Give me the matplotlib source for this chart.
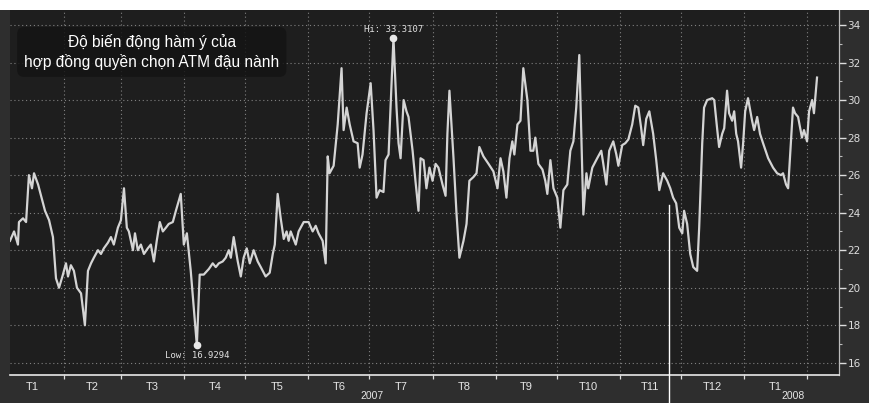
import numpy as np
import matplotlib
matplotlib.use("Agg")
import matplotlib.pyplot as plt
import matplotlib.transforms as mtransforms
from matplotlib.ticker import FixedLocator, NullFormatter, FixedFormatter, MultipleLocator

# ---- data: day offset since 2007-01-01, implied volatility ----
days = [4.4, 6.4, 8.3, 8.8, 10.8, 12.3, 13.7, 15.2, 16.2, 18.2, 20.6, 21.6, 23.6, 25.5,
        27.0, 28.5, 30.4, 31.9, 32.9, 34.3, 35.8, 37.3, 39.3, 41.2, 42.7, 44.2, 45.6, 47.6,
        49.1, 50.5, 52.5, 54.0, 55.4, 57.4, 58.9, 60.4, 61.8, 62.8, 64.8, 65.8, 67.2, 68.7,
        70.2, 72.1, 73.6, 75.1, 76.5, 78.0, 79.5, 81.0, 82.4, 84.4, 85.9, 88.3, 89.8, 91.3,
        93.2, 96.2, 97.6, 99.6, 102.1, 104.0, 105.5, 107.0, 108.9, 110.4, 111.9, 112.9, 114.3,
        116.3, 117.8, 119.2, 120.7, 122.2, 124.1, 126.1, 127.6, 130.0, 132.0, 133.5, 134.5,
        135.9, 137.4, 138.9, 140.3, 141.3,
        142.3, 144.8, 146.2, 148.7, 151.1, 153.1, 154.6, 156.0, 158.0, 159.5, 160.5, 161.4,
        163.4, 165.4, 167.3, 168.3, 169.8, 171.3, 173.2, 175.2, 176.2, 177.6, 179.6, 181.6,
        183.0, 184.5, 186.0, 187.9, 188.9, 190.4, 192.8, 194.3, 195.3, 196.3, 197.8, 199.2,
        200.2, 202.2, 203.6, 205.1, 206.1, 207.6, 209.0, 210.5, 212.0, 213.5, 214.9, 216.9,
        218.4, 219.3, 220.3, 222.3, 223.8, 225.2, 227.2, 228.7, 230.1, 232.1, 233.6, 235.0,
        237.0, 239.5, 241.9, 243.9, 245.4, 246.8, 248.3, 249.8, 251.2, 252.2, 253.7, 255.2,
        256.6, 258.6, 260.1, 261.5, 262.5, 264.0, 266.0, 267.4, 268.4, 269.9, 271.4, 273.3,
        274.8, 276.3, 278.2, 279.7, 281.2, 282.6, 284.1,
        286.1, 287.6, 288.5, 290.5, 292.9, 294.9, 295.9, 297.4, 298.8, 300.8, 302.3, 303.3,
        305.2, 306.7, 308.2, 310.1, 311.6, 313.1, 314.5, 315.5, 317.0, 318.5, 320.4, 321.9,
        323.4, 325.3, 327.3, 328.8, 330.2, 331.7, 333.2, 334.7, 335.6, 337.1, 338.6, 340.1,
        342.0, 343.0, 344.5, 345.4, 346.9, 349.4, 350.4, 351.8, 352.8, 354.3, 355.3, 356.7,
        357.7, 359.2, 360.2, 361.2, 362.1, 363.6, 364.6, 365.6, 367.0, 369.0, 370.0, 371.5,
        372.9, 374.4, 376.9, 379.3, 381.3, 383.2, 384.2, 385.7, 386.7, 387.7, 389.1, 390.1,
        391.6, 393.5, 394.5, 396.0, 397.0, 398.5, 399.4, 400.9]

vols = [22.5, 23.0, 22.3, 23.5, 23.7, 23.5, 26.0, 25.3, 26.1, 25.5, 24.5, 24.1, 23.6, 22.7,
        20.5, 20.0, 20.7, 21.3, 20.6, 21.2, 20.9, 20.0, 19.7, 18.0, 20.9, 21.3, 21.6, 22.0,
        21.8, 22.1, 22.4, 22.7, 22.3, 23.2, 23.6, 25.3, 23.2, 23.0, 22.0, 22.9, 22.0, 22.3,
        21.8, 22.1, 22.3, 21.4, 22.5, 23.5, 23.0, 23.2, 23.4, 23.5, 24.1, 25.0, 22.3, 22.9,
        20.9, 16.9294, 20.7, 20.7, 21.0, 21.3, 21.1, 21.3, 21.4, 21.6, 22.0, 21.6, 22.7,
        21.4, 20.6, 21.6, 22.1, 21.3, 22.0, 21.4, 21.1, 20.6, 20.8, 21.8, 22.3,
        25.0, 23.7, 22.6, 23.0, 22.5,
        23.0, 22.3, 23.0, 23.5, 23.5, 23.0, 23.3, 22.9, 22.5, 21.3, 27.0, 26.1,
        26.5, 28.7, 31.7, 28.4, 29.6, 28.7, 27.8, 27.7, 26.4, 27.1, 29.3, 30.9,
        28.4, 24.8, 25.2, 25.1, 26.8, 27.1, 33.3107, 29.6, 27.7, 26.9, 30.0, 29.4,
        29.1, 27.3, 25.7, 24.1, 26.9, 26.8, 25.3, 26.4, 25.7, 26.6, 26.4, 25.5,
        24.9, 28.2, 30.5, 26.9, 23.9, 21.6, 22.5, 23.4, 25.7, 25.9, 26.1, 27.5,
        27.0, 26.6, 26.2, 25.3, 26.9, 26.2, 24.8, 26.9, 27.8, 27.1, 28.7, 28.9,
        31.7, 30.0, 27.3, 27.3, 28.0, 26.6, 26.3, 25.7, 25.0, 26.8, 25.3, 24.8,
        23.2, 25.2, 25.5, 27.3, 27.8, 29.6, 32.4,
        23.9, 26.1, 25.3, 26.4, 26.9, 27.3, 26.6, 25.5, 27.3, 27.8, 27.1, 26.5,
        27.6, 27.7, 27.9, 28.7, 29.7, 29.6, 28.5, 27.6, 29.0, 29.4, 28.2, 26.8,
        25.2, 26.1, 25.7, 25.3, 24.8, 24.5, 23.2, 22.9, 24.1, 23.4, 21.8, 21.1,
        20.9, 23.2, 27.7, 29.6, 30.0, 30.1, 30.0, 28.5, 27.5, 28.2, 28.5, 30.5,
        29.3, 28.9, 29.4, 28.2, 27.8, 26.4, 27.7, 29.4, 30.1, 28.9, 28.4, 29.1,
        28.2, 27.7, 26.9, 26.4, 26.1, 26.0, 26.1, 25.5, 25.3, 27.1, 29.6, 29.3,
        29.1, 28.0, 28.4, 27.8, 29.4, 30.0, 29.3, 31.2]

month_starts = ["2007-01-01", "2007-02-01", "2007-03-01", "2007-04-01", "2007-05-01",
                "2007-06-01", "2007-07-01", "2007-08-01", "2007-09-01", "2007-10-01",
                "2007-11-01", "2007-12-01", "2008-01-01", "2008-02-01"]
month_labels = ["T1", "T2", "T3", "T4", "T5", "T6", "T7", "T8", "T9", "T10", "T11", "T12", "T1"]
year_labels = ["2007", "2008"]
year_label_days = [182.5, 389.0]
cursor_day = 328.3
title = "Độ biến động hàm ý của\nhợp đồng quyền chọn ATM đậu nành"

# ---- derived ----
days = np.array(days)
vols = np.array(vols)
origin = np.datetime64("2007-01-01")
bounds = np.array([(np.datetime64(m) - origin).astype(int) for m in month_starts], dtype=float)
mids = (bounds[:-1] + bounds[1:]) / 2

W, H = 869, 403
fig = plt.figure(figsize=(W / 100, H / 100), dpi=100, facecolor="#2e2e2e")
ax = fig.add_axes([10 / W, 1 - 375 / H, 829 / W, 365 / H])
ax.set_facecolor("#1e1e1e")

# white strip at the very top of the scan
fig.patches.append(plt.Rectangle((0, 1 - 10 / H), 1, 10 / H, transform=fig.transFigure,
                                 facecolor="white", edgecolor="none", zorder=0))

ax.plot(days, vols, color="#d4d4d4", lw=1.6, zorder=3)

ax.set_xlim(days[0], 411.7)
ax.set_ylim(15.35, 34.8)

# grids
ax.xaxis.set_major_locator(FixedLocator(bounds[1:]))
ax.xaxis.set_major_formatter(NullFormatter())
ax.xaxis.set_minor_locator(FixedLocator(mids))
ax.xaxis.set_minor_formatter(FixedFormatter(month_labels))
ax.yaxis.set_major_locator(MultipleLocator(2))
ax.yaxis.set_minor_locator(MultipleLocator(1))
ax.grid(True, which="major", color="#9a9a9a", lw=0.8, linestyle=(0, (1, 2.5)), alpha=0.8)

ax.yaxis.tick_right()
ax.tick_params(axis="y", which="major", colors="#dddddd", labelsize=7.5, length=5,
               width=1.0, pad=1, direction="out")
ax.tick_params(axis="y", which="minor", colors="#bbbbbb", length=2.5, width=0.8)
ax.tick_params(axis="x", which="major", colors="#dddddd", length=3, width=0.9,
               direction="out")
ax.tick_params(axis="x", which="minor", colors="#e6e6e6", length=0, labelsize=8, pad=5)
for lbl in ax.get_xticklabels(minor=True):
    lbl.set_family(["Liberation Sans", "DejaVu Sans"])

for s in ["top", "left"]:
    ax.spines[s].set_visible(False)
ax.spines["bottom"].set_color("#e8e8e8")
ax.spines["bottom"].set_linewidth(1.2)
ax.spines["right"].set_color("#bdbdbd")
ax.spines["right"].set_linewidth(0.9)

# year labels
trans = mtransforms.blended_transform_factory(ax.transData, ax.transAxes)
for yl, yd in zip(year_labels, year_label_days):
    ax.text(yd, -0.058, yl, transform=trans, ha="center", va="center", color="#e6e6e6",
            fontsize=7.5, family=["Liberation Sans", "DejaVu Sans"], clip_on=False)

# cursor line
ax.plot([cursor_day, cursor_day], [-0.08, 0.466], transform=trans, color="white",
        lw=1.0, clip_on=False, zorder=4)

# hi / low markers
ih, il = int(np.argmax(vols)), int(np.argmin(vols))
ax.plot(days[ih], vols[ih], "o", ms=4.5, color="#e8e8e8", zorder=5)
ax.plot(days[il], vols[il], "o", ms=4.5, color="#e8e8e8", zorder=5)
ax.annotate(f"Hi: {vols[ih]:.4f}", (days[ih], vols[ih]), xytext=(0, 3),
            textcoords="offset points", ha="center", va="bottom", color="#e0e0e0",
            fontsize=6.5, family="DejaVu Sans Mono")
ax.annotate(f"Low: {vols[il]:.4f}", (days[il], vols[il]), xytext=(0, -4),
            textcoords="offset points", ha="center", va="top", color="#e0e0e0",
            fontsize=6.5, family="DejaVu Sans Mono")

# title box
ax.text(0.171, 0.885, title, transform=ax.transAxes, ha="center", va="center",
        color="white", fontsize=11.2, linespacing=1.3,
        family=["Liberation Sans", "DejaVu Sans"], zorder=6,
        bbox=dict(boxstyle="round,pad=0.45", facecolor="#141414", edgecolor="none",
                  alpha=0.85))

fig.savefig("out.png", dpi=100, facecolor=fig.get_facecolor())
